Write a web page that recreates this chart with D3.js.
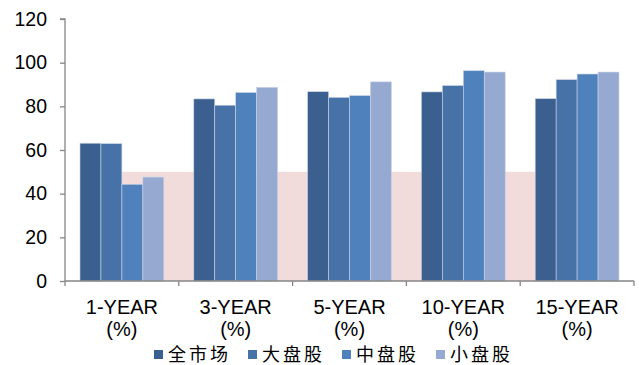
<!DOCTYPE html>
<html lang="zh">
<head>
<meta charset="UTF-8">
<script src="https://d3js.org/d3.v7.min.js"></script>
<style>
  body { margin: 0; background: #fff; font-family: 'Liberation Sans', Arial, sans-serif; }
</style>
</head>
<body>
<div id="chart"></div>
<script>
// data
const categories = ["1-YEAR\n(%)", "3-YEAR\n(%)", "5-YEAR\n(%)", "10-YEAR\n(%)", "15-YEAR\n(%)"];
const seriesNames = ["全市场", "大盘股", "中盘股", "小盘股"];
const allMarket = [63.1, 83.4, 86.7, 86.6, 83.5];
const largeCap  = [62.9, 80.5, 84.1, 89.5, 92.2];
const midCap    = [44.3, 86.3, 84.9, 96.3, 94.8];
const smallCap  = [47.6, 88.7, 91.2, 95.7, 95.7];
const threshold = 50;
const yTicks = [0, 20, 40, 60, 80, 100, 120];

const series = [allMarket, largeCap, midCap, smallCap];
const colors = ["#3b5f8e", "#4672a8", "#4f81bd", "#95a9d1"];

const width = 639, height = 365;
const margin = { top: 19, right: 5, bottom: 84, left: 65 };

const svg = d3.select("#chart").append("svg")
    .attr("width", width)
    .attr("height", height);

const x = d3.scaleBand()
    .domain(d3.range(categories.length))
    .range([margin.left, 634])
    .paddingInner(0)
    .paddingOuter(0);

const inner = d3.scaleBand()
    .domain(d3.range(series.length))
    .range([15, x.bandwidth() - 15]);

const y = d3.scaleLinear()
    .domain([0, 120])
    .range([281, 19]);

// pink 50% band behind the bars
svg.append("rect")
    .attr("x", x(0) + inner(0))
    .attr("width", x(categories.length - 1) + inner(3) + inner.bandwidth() - x(0) - inner(0))
    .attr("y", y(threshold))
    .attr("height", y(0) - y(threshold))
    .attr("fill", "#f2dcdb");

// bars
series.forEach((vals, s) => {
    svg.append("g")
        .selectAll("rect")
        .data(vals)
        .join("rect")
        .attr("x", (d, i) => x(i) + inner(s))
        .attr("width", inner.bandwidth())
        .attr("y", d => y(d))
        .attr("height", d => y(0) - y(d))
        .attr("fill", colors[s])
        .attr("stroke", "#c8d3e6")
        .attr("stroke-width", 0.6);
});

// y axis
const yAxis = svg.append("g")
    .attr("transform", `translate(${margin.left},0)`)
    .call(d3.axisLeft(y).tickValues(yTicks).tickSize(5).tickPadding(13));
yAxis.select(".domain").attr("stroke", "#868686").attr("stroke-width", 1.3)
    .attr("d", `M-5,${y(120)}H0V${y(0)}`);
yAxis.selectAll(".tick line").attr("stroke", "#868686").attr("stroke-width", 1.3);
yAxis.selectAll(".tick text")
    .attr("font-size", 19.5)
    .attr("font-family", "'Liberation Sans', Arial, sans-serif")
    .attr("fill", "#000");

// x axis
const xAxis = svg.append("g")
    .attr("transform", `translate(0,${y(0)})`);
xAxis.append("path")
    .attr("d", `M${margin.left},0H634`)
    .attr("stroke", "#868686")
    .attr("stroke-width", 1.3)
    .attr("fill", "none");
xAxis.selectAll("line")
    .data(d3.range(categories.length + 1))
    .join("line")
    .attr("x1", i => x.range()[0] + i * x.bandwidth())
    .attr("x2", i => x.range()[0] + i * x.bandwidth())
    .attr("y1", 0)
    .attr("y2", 5)
    .attr("stroke", "#868686")
    .attr("stroke-width", 1.3);

const labels = xAxis.selectAll("text")
    .data(categories)
    .join("text")
    .attr("text-anchor", "middle")
    .attr("font-size", 20)
    .attr("fill", "#000");
labels.each(function (d, i) {
    const t = d3.select(this);
    d.split("\n").forEach((line, k) => {
        t.append("tspan")
            .attr("x", x(i) + x.bandwidth() / 2)
            .attr("y", 33 + k * 22)
            .text(line);
    });
});

// legend
const legendX = [154, 248, 342, 436];
const legend = svg.append("g");
seriesNames.forEach((name, s) => {
    legend.append("rect")
        .attr("x", legendX[s])
        .attr("y", 350)
        .attr("width", 9)
        .attr("height", 9)
        .attr("fill", colors[s]);
    legend.append("text")
        .attr("x", legendX[s] + 14)
        .attr("y", 361)
        .attr("font-size", 18)
        .attr("font-family", "'Noto Sans CJK SC', sans-serif")
        .attr("letter-spacing", 3)
        .attr("fill", "#000")
        .text(name);
});
</script>
</body>
</html>
